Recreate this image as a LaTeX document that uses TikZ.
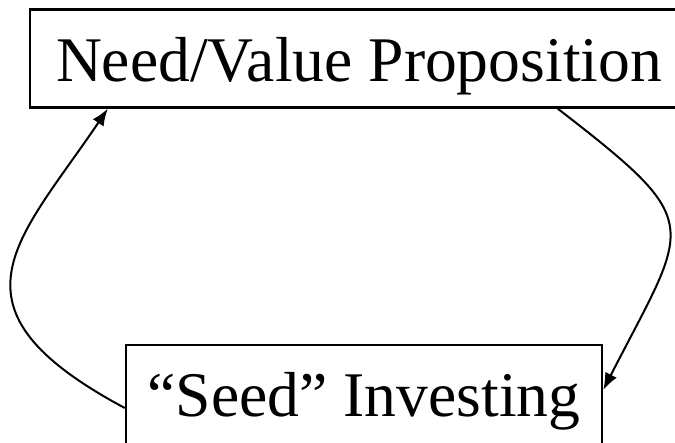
\documentclass[tikz,border=0pt]{standalone}
\usepackage{fontspec}
\setmainfont{Liberation Serif}
\usepackage{tikz}
\usetikzlibrary{arrows.meta}

\begin{document}
\begin{tikzpicture}[x=1pt,y=-1pt,
  stage/.style={draw,line width=2.4pt,minimum height=98pt,inner sep=0pt,
    text height=46pt,text depth=0pt,font=\fontsize{63.6}{70}\selectfont},
  loop/.style={line width=2pt,-{Latex[length=17pt,width=13pt]}}]
\useasboundingbox (0,0) rectangle (675,442);
\clip (0,0) rectangle (675,442);
\node [stage,minimum width=658pt] (need) at (359,58.5) {Need/Value Proposition};
\node [stage,minimum width=476pt,minimum height=104pt,text height=38pt] (seed) at (364,397) {``Seed'' Investing};
\draw [loop] ([xshift=529pt]need.south west) .. controls +(150,116) and +(86.5,-169) .. ([yshift=7pt]seed.east);
\draw [loop] ([yshift=-11pt]seed.west) .. controls +(-187,-100) and +(-90,133) .. ([xshift=79pt]need.south west);
\end{tikzpicture}
\end{document}
